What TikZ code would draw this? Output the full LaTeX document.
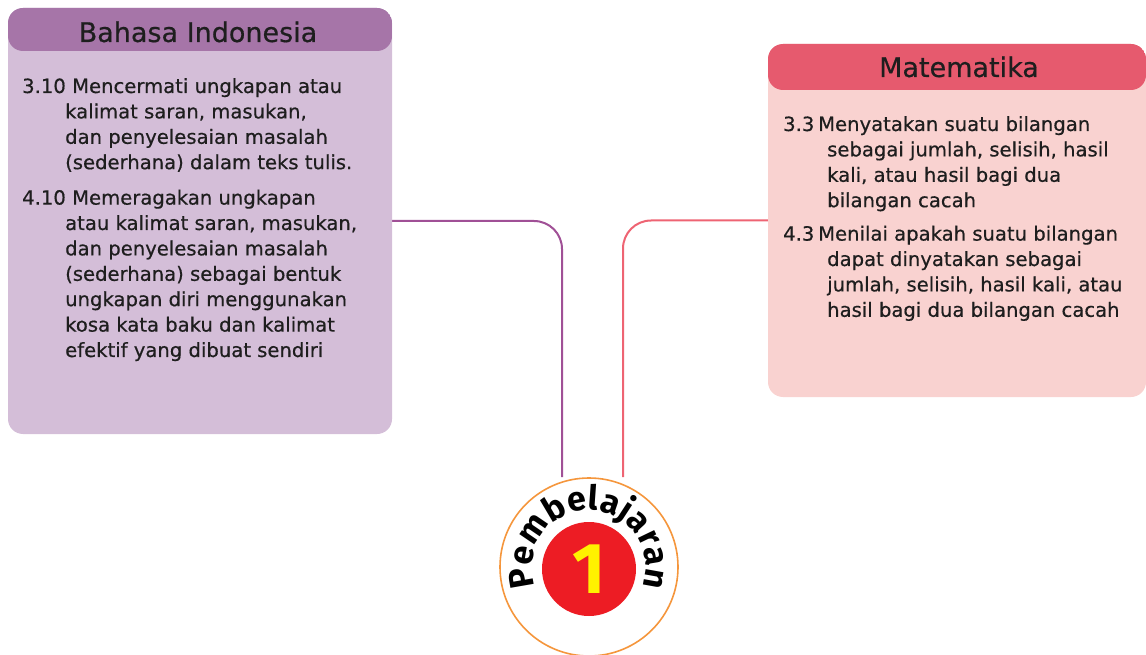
\documentclass[tikz,border=0pt]{standalone}
\usepackage{fontspec}
\setmainfont{DejaVu Sans}[FakeBold=0.5]
\newfontfamily\circfont{Fira Sans}
\usetikzlibrary{decorations.text,backgrounds}
\definecolor{bihead}{RGB}{166,117,168}
\definecolor{bibody}{RGB}{212,190,216}
\definecolor{mahead}{RGB}{230,90,110}
\definecolor{mabody}{RGB}{249,210,208}
\definecolor{lpurple}{RGB}{160,80,150}
\definecolor{lpink}{RGB}{238,100,115}
\definecolor{orangeC}{RGB}{245,150,60}
\definecolor{redC}{RGB}{237,28,36}
\definecolor{yellowC}{RGB}{255,242,0}
\definecolor{txt}{RGB}{30,30,30}
\begin{document}
\begin{tikzpicture}[x=1pt,y=-1pt,
  subjbox/.style={rounded corners=15pt, inner sep=0, draw=none},
  headtxt/.style={anchor=base, text=txt, font=\fontsize{27}{30}\selectfont},
  bodytxt/.style={anchor=base west, inner sep=0, text=txt, font=\fontsize{19.6}{25.4}\selectfont},
  conn/.style={line width=2pt, rounded corners=28pt}]
\useasboundingbox (0,0) rectangle (1146,655);

% Bahasa Indonesia box
\node[subjbox, fill=bibody, minimum width=384, minimum height=426,
  path picture={\fill[bihead] (path picture bounding box.north west) rectangle ([yshift=-43pt]path picture bounding box.north east);}]
  (bi) at (200,221) {};
\node[headtxt] (bih) at (198,42) {Bahasa Indonesia};
\node[bodytxt] (bit) at (22,93) {\begin{tabular}[t]{@{}p{43pt}@{}l@{}}
3.10 & \hspace{7pt}Mencermati ungkapan atau\\
 & kalimat saran, masukan,\\
 & dan penyelesaian masalah\\
 & (sederhana) dalam teks tulis.\\[10pt]
4.10 & \hspace{7pt}Memeragakan ungkapan\\
 & atau kalimat saran, masukan,\\
 & dan penyelesaian masalah\\
 & (sederhana) sebagai bentuk\\
 & ungkapan diri menggunakan\\
 & kosa kata baku dan kalimat\\
 & efektif yang dibuat sendiri
\end{tabular}};

% Matematika box
\node[subjbox, fill=mabody, minimum width=378, minimum height=353,
  path picture={\fill[mahead] (path picture bounding box.north west) rectangle ([yshift=-46pt]path picture bounding box.north east);}]
  (ma) at (957,220.5) {};
\node[headtxt] (mah) at (959,77) {Matematika};
\node[bodytxt] (mat) at (783,131) {\begin{tabular}[t]{@{}p{35pt}@{}l@{}}
3.3 & Menyatakan suatu bilangan\\
 & \hspace{9pt}sebagai jumlah, selisih, hasil\\
 & \hspace{9pt}kali, atau hasil bagi dua\\
 & \hspace{9pt}bilangan cacah\\[8pt]
4.3 & Menilai apakah suatu bilangan\\
 & \hspace{9pt}dapat dinyatakan sebagai\\
 & \hspace{9pt}jumlah, selisih, hasil kali, atau\\
 & \hspace{9pt}hasil bagi dua bilangan cacah
\end{tabular}};

% Pembelajaran badge
\node[circle, draw=orangeC, line width=1.6pt, fill=white, minimum size=178, inner sep=0] (c) at (589,567) {};
\node[circle, fill=redC, minimum size=94, inner sep=0, text=yellowC,
  font=\circfont\bfseries\fontsize{72}{72}\selectfont] (one) at (589,569) {1};
\path[decorate, decoration={text along path,
  text={|\circfont\bfseries\fontsize{34}{34}\selectfont|Pembelajaran},
  text align={fit to path}}]
  (c.center) ++(160:57) arc[start angle=160, end angle=380, radius=57];

% connectors
\begin{scope}[on background layer]
\draw[conn, lpurple] (bi.east) -| ([xshift=-27pt]c.north);
\draw[conn, lpink] (ma.west) -| ([xshift=34pt]c.north);
\end{scope}
\end{tikzpicture}
\end{document}
